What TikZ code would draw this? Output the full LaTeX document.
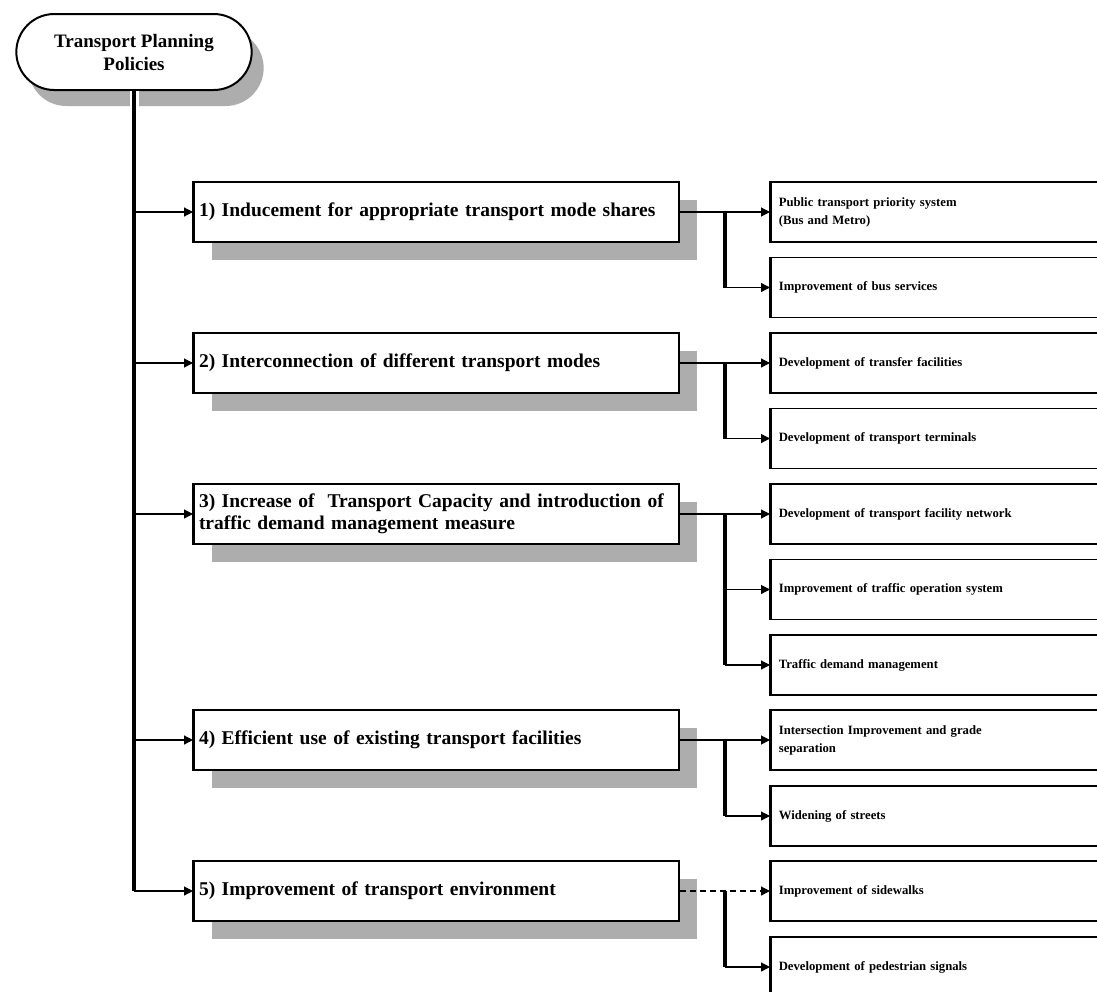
\documentclass[tikz,border=0pt]{standalone}
\usepackage{fontspec}
\setmainfont{Liberation Serif}
\usetikzlibrary{arrows.meta,shapes.misc,shadows}
\begin{document}
\begin{tikzpicture}[x=1pt,y=-1pt,
  shad/.style={drop shadow={shadow xshift=18pt, shadow yshift=-18pt, fill=black!32, opacity=1}},
  pol/.style={draw, line width=2pt, fill=white, anchor=west, minimum width=485pt,
    minimum height=60pt, inner xsep=5pt, text width=475pt, align=left,
    font=\fontsize{19.5}{22}\selectfont\bfseries, shad},
  sub/.style={draw, line width=1.6pt, fill=white, anchor=west, minimum width=380pt,
    minimum height=60pt, inner xsep=8pt, text width=364pt, align=left,
    font=\fontsize{12.7}{18}\selectfont\bfseries},
  arr/.style={line width=1.2pt, -{Triangle[length=9pt,width=9pt]}},
  stem/.style={line width=3.4pt},
  junc/.style={line width=3.2pt},
]
\useasboundingbox (0,0) rectangle (1097,991);
\clip (0,0) rectangle (1097,991);
\fill[white] (0,0) rectangle (1097,991);

% root
\node[draw, line width=2pt, rounded rectangle, minimum width=242pt, minimum height=76pt,
  fill=white, align=center, font=\fontsize{19}{23}\selectfont\bfseries,
  drop shadow={shadow xshift=12pt, shadow yshift=-16pt, fill=black!32, opacity=1}]
  (root) at (134,52) {Transport Planning\\Policies};

% policy boxes
\node[pol] (p1) at (193,212) {1) Inducement for appropriate transport mode shares};
\node[pol] (p2) at (193,363) {2) Interconnection of different transport modes};
\node[pol] (p3) at (193,514) {3) Increase of \ Transport Capacity and introduction of\\traffic demand management measure};
\node[pol] (p4) at (193,740) {4) Efficient use of existing transport facilities};
\node[pol] (p5) at (193,891) {5) Improvement of transport environment};

% sub boxes
\node[sub] (s1) at (770,212) {Public transport priority system\\(Bus and Metro)};
\node[sub] (s2) at (770,287.5) {Improvement of bus services};
\node[sub] (s3) at (770,363) {Development of transfer facilities};
\node[sub] (s4) at (770,438.5) {Development of transport terminals};
\node[sub] (s5) at (770,514) {Development of transport facility network};
\node[sub] (s6) at (770,589.5) {Improvement of traffic operation system};
\node[sub] (s7) at (770,665) {Traffic demand management};
\node[sub] (s8) at (770,740) {Intersection Improvement and grade\\separation};
\node[sub] (s9) at (770,816) {Widening of streets};
\node[sub] (s10) at (770,891) {Improvement of sidewalks};
\node[sub] (s11) at (770,967) {Development of pedestrian signals};

% thicker left borders
\foreach \n in {p1,p2,p3,p4,p5,s1,s2,s3,s4,s5,s6,s7,s8,s9,s10,s11}
  \draw[line width=3pt] (\n.north west) -- (\n.south west);

% trunk
\draw[white, line width=9pt] (root.south) -- ++(0,20);
\draw[stem] (root.south) -- (root.south |- p5.west);
\foreach \n in {p1,p2,p3,p4,p5}
  \draw[arr] (root.south |- \n.west) -- (\n.west);

% branches
\draw[arr] (p1.east) -- (s1.west);
\draw[arr] (p2.east) -- (s3.west);
\draw[arr] (p3.east) -- (s5.west);
\draw[arr] (p4.east) -- (s8.west);
\draw[arr, dash pattern=on 6pt off 4pt] (p5.east) -- (s10.west);

\draw[junc] ([xshift=45pt]p1.east) -- ([xshift=45pt]p1.east |- s2.west);
\draw[arr] ([xshift=45pt]p1.east |- s2.west) -- (s2.west);
\draw[junc] ([xshift=45pt]p2.east) -- ([xshift=45pt]p2.east |- s4.west);
\draw[arr] ([xshift=45pt]p2.east |- s4.west) -- (s4.west);
\draw[junc] ([xshift=45pt]p3.east) -- ([xshift=45pt]p3.east |- s7.west);
\draw[arr] ([xshift=45pt]p3.east |- s6.west) -- (s6.west);
\draw[arr] ([xshift=45pt]p3.east |- s7.west) -- (s7.west);
\draw[junc] ([xshift=45pt]p4.east) -- ([xshift=45pt]p4.east |- s9.west);
\draw[arr] ([xshift=45pt]p4.east |- s9.west) -- (s9.west);
\draw[junc] ([xshift=45pt]p5.east) -- ([xshift=45pt]p5.east |- s11.west);
\draw[arr] ([xshift=45pt]p5.east |- s11.west) -- (s11.west);
\end{tikzpicture}
\end{document}
